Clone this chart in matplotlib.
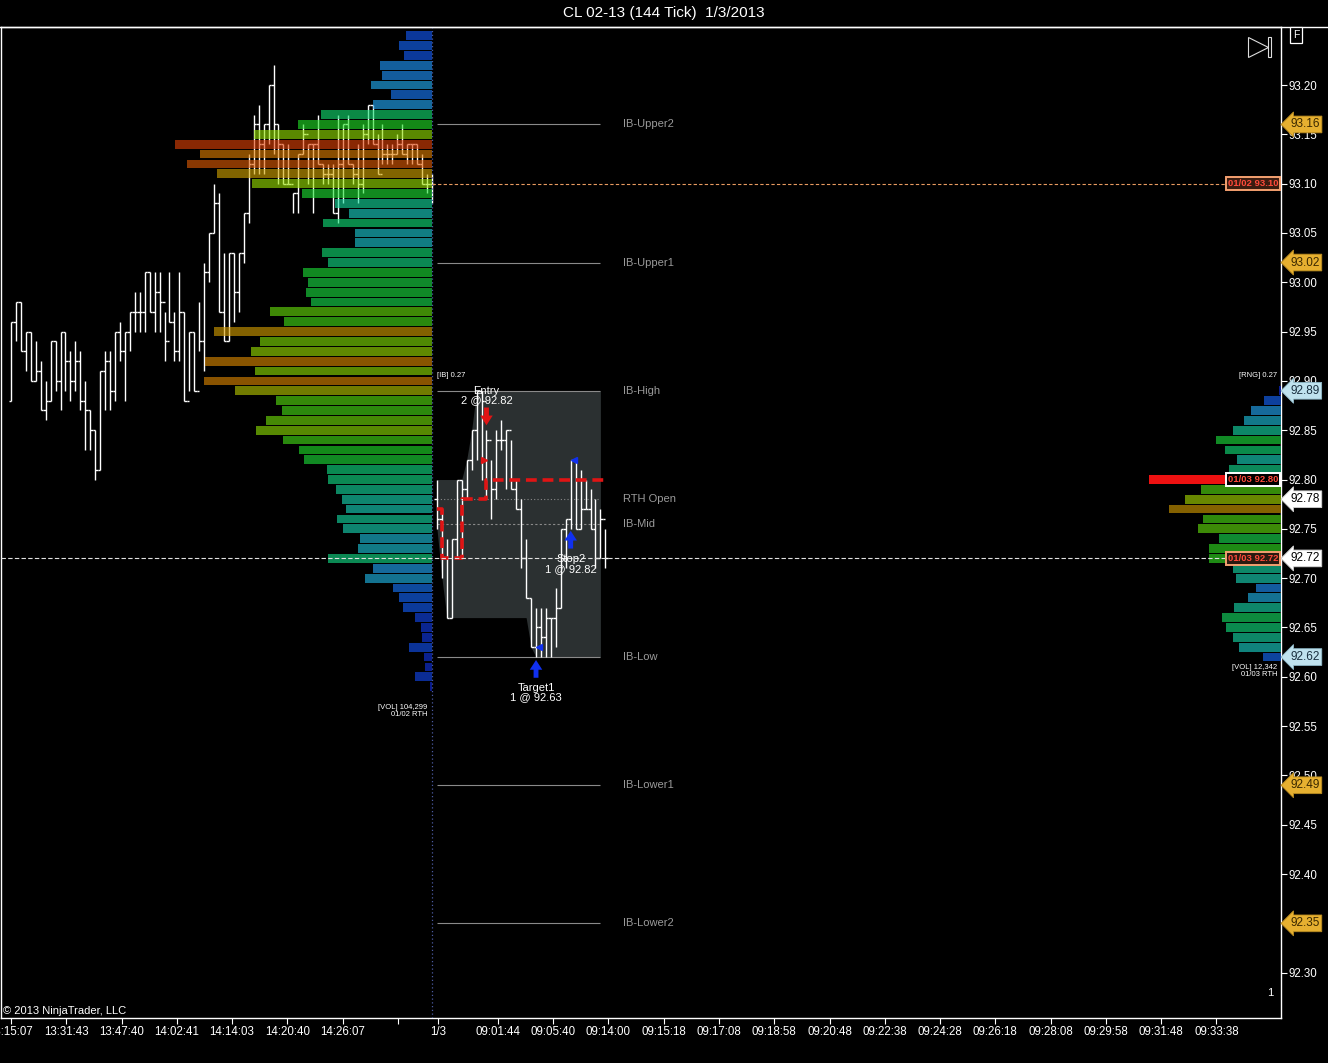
import numpy as np
import matplotlib
matplotlib.use("Agg")
import matplotlib.pyplot as plt
from matplotlib.collections import LineCollection
from matplotlib.colors import LinearSegmentedColormap, to_rgb
from matplotlib.patches import Rectangle
from matplotlib.lines import Line2D

plt.rcParams['font.family'] = ['Liberation Sans', 'DejaVu Sans']

# ------------------------------------------------------------------ data
title = "CL 02-13 (144 Tick)  1/3/2013"

# 01/02 session tick bars (high, low, close); open = previous close
prev_first_open = 92.88
prev_high = [92.96, 92.98, 92.98, 92.95, 92.95, 92.94, 92.92, 92.90, 92.94, 92.94,
             92.95, 92.95, 92.93, 92.94, 92.93, 92.90, 92.87, 92.85, 92.91, 92.93,
             92.93, 92.95, 92.96, 92.95, 92.97, 92.99, 92.99, 93.01, 93.01, 93.01,
             93.01, 92.97, 93.01, 92.97, 93.01, 92.97, 92.95, 92.95, 92.98, 93.02,
             93.05, 93.10, 93.09, 93.03, 93.03, 93.03, 93.03, 93.07, 93.13, 93.17,
             93.18, 93.16, 93.20, 93.22, 93.16, 93.14, 93.14, 93.09, 93.13, 93.16,
             93.14, 93.14, 93.17, 93.12, 93.12, 93.12, 93.17, 93.16, 93.17, 93.12,
             93.14, 93.16, 93.18, 93.18, 93.15, 93.16, 93.14, 93.14, 93.15, 93.16,
             93.14, 93.14, 93.14, 93.13, 93.11, 93.11]
prev_low = [92.88, 92.94, 92.93, 92.91, 92.90, 92.90, 92.87, 92.86, 92.88, 92.89,
            92.87, 92.89, 92.88, 92.89, 92.87, 92.83, 92.83, 92.80, 92.81, 92.87,
            92.87, 92.88, 92.92, 92.88, 92.93, 92.95, 92.95, 92.95, 92.97, 92.95,
            92.95, 92.92, 92.96, 92.92, 92.92, 92.88, 92.89, 92.89, 92.93, 92.91,
            93.00, 93.05, 92.97, 92.94, 92.94, 92.96, 92.97, 93.02, 93.06, 93.11,
            93.11, 93.11, 93.14, 93.13, 93.10, 93.10, 93.10, 93.07, 93.07, 93.13,
            93.10, 93.07, 93.12, 93.10, 93.10, 93.07, 93.06, 93.08, 93.12, 93.10,
            93.08, 93.09, 93.14, 93.14, 93.11, 93.12, 93.12, 93.12, 93.13, 93.13,
            93.12, 93.12, 93.12, 93.10, 93.09, 93.08]
prev_close = [92.96, 92.98, 92.93, 92.95, 92.90, 92.91, 92.87, 92.88, 92.94, 92.90,
              92.95, 92.92, 92.90, 92.92, 92.88, 92.87, 92.85, 92.81, 92.91, 92.92,
              92.89, 92.95, 92.93, 92.95, 92.97, 92.97, 92.97, 93.01, 92.97, 92.99,
              92.98, 92.94, 92.96, 92.93, 92.97, 92.88, 92.95, 92.89, 92.94, 93.01,
              93.05, 93.08, 92.97, 92.94, 93.03, 92.99, 93.03, 93.07, 93.12, 93.16,
              93.14, 93.16, 93.20, 93.16, 93.14, 93.10, 93.10, 93.09, 93.13, 93.15,
              93.14, 93.14, 93.12, 93.11, 93.11, 93.07, 93.12, 93.16, 93.12, 93.11,
              93.10, 93.15, 93.18, 93.14, 93.11, 93.13, 93.13, 93.13, 93.14, 93.13,
              93.14, 93.14, 93.12, 93.10, 93.10, 93.10]

# 01/03 RTH tick bars
rth_first_open = 92.78
rth_high = [92.80, 92.77, 92.74, 92.74, 92.80, 92.80, 92.82, 92.85, 92.89, 92.89,
            92.85, 92.82, 92.85, 92.86, 92.85, 92.84, 92.80, 92.78, 92.74, 92.68,
            92.67, 92.67, 92.67, 92.66, 92.69, 92.75, 92.76, 92.82, 92.82, 92.81,
            92.80, 92.79, 92.78, 92.77, 92.75]
rth_low = [92.75, 92.70, 92.66, 92.66, 92.72, 92.72, 92.78, 92.81, 92.82, 92.80,
           92.78, 92.76, 92.78, 92.83, 92.79, 92.79, 92.77, 92.71, 92.68, 92.63,
           92.62, 92.62, 92.62, 92.62, 92.63, 92.67, 92.71, 92.75, 92.75, 92.75,
           92.77, 92.75, 92.71, 92.72, 92.71]
rth_close = [92.76, 92.72, 92.66, 92.74, 92.80, 92.79, 92.82, 92.85, 92.89, 92.88,
             92.84, 92.79, 92.84, 92.84, 92.85, 92.79, 92.77, 92.72, 92.68, 92.63,
             92.65, 92.64, 92.66, 92.66, 92.67, 92.75, 92.76, 92.82, 92.75, 92.77,
             92.77, 92.75, 92.72, 92.76, 92.72]
ib_bar_count = 34

# trailing stop (per RTH bar)
stop_line = [92.77, 92.72, 92.72, 92.72, 92.72, 92.78, 92.78, 92.78, 92.78, 92.78,
             92.80, 92.80, 92.80, 92.80, 92.80, 92.80, 92.80, 92.80, 92.80, 92.80,
             92.80, 92.80, 92.80, 92.80, 92.80, 92.80, 92.80, 92.80, 92.80, 92.80,
             92.80, 92.80, 92.80, 92.80, 92.80]

# volume profiles (relative volume per 0.01 price level, from top down)
prev_profile_top = 93.25
prev_profile_vol = [26, 33, 28, 52, 50, 61, 41, 59, 111, 134,
                    178, 257, 232, 245, 215, 180, 130, 97, 83, 109,
                    77, 77, 110, 104, 129, 124, 126, 121, 162, 148,
                    218, 172, 181, 227, 177, 228, 197, 156, 150, 166,
                    176, 149, 133, 128, 105, 104, 96, 90, 86, 95,
                    89, 72, 74, 104, 59, 67, 39, 33, 29, 17,
                    11, 10, 23, 8, 7, 17, 2]
rth_profile_top = 92.89
rth_profile_vol = [2, 17, 30, 37, 48, 65, 56, 44, 52, 132,
                   80, 96, 112, 78, 83, 62, 72, 72, 48, 45,
                   25, 33, 47, 59, 55, 48, 42, 18]

# initial balance levels
ib_names = ["IB-Upper2", "IB-Upper1", "IB-High", "RTH Open", "IB-Mid", "IB-Low", "IB-Lower1", "IB-Lower2"]
ib_prices = [93.16, 93.02, 92.89, 92.78, 92.755, 92.62, 92.49, 92.35]
ib_styles = ["-", "-", "-", ":", "--", "-", "-", "-"]

# right axis price flags
flag_prices = [93.16, 93.02, 92.89, 92.78, 92.72, 92.62, 92.49, 92.35]
flag_kinds = ["gold", "gold", "blue", "white", "white", "blue", "gold", "gold"]

last_price = 92.72
prev_poc = 93.10
rth_poc = 92.80

# trades
entry_bar, entry_price, entry_label = 10, 92.82, "Entry\n2 @ 92.82"
target_bar, target_price, target_label = 20, 92.63, "Target1\n1 @ 92.63"
stop_bar, stop_price, stop_label = 27, 92.82, "Stop2\n1 @ 92.82"

# x axis labels
left_tick_labels = ["13:15:07", "13:31:43", "13:47:40", "14:02:41", "14:14:03", "14:20:40", "14:26:07", ""]
session_label = "1/3"
right_tick_labels = ["09:01:44", "09:05:40", "09:14:00", "09:15:18", "09:17:08", "09:18:58",
                     "09:20:48", "09:22:38", "09:24:28", "09:26:18", "09:28:08", "09:29:58",
                     "09:31:48", "09:33:38"]
yticks = [92.30, 92.35, 92.40, 92.45, 92.50, 92.55, 92.60, 92.65, 92.70, 92.75,
          92.80, 92.85, 92.90, 92.95, 93.00, 93.05, 93.10, 93.15, 93.20]

# ------------------------------------------------------------------ layout
W, H = 1328, 1063
PX = 4.953            # pixels per bar slot
TICK_STEP = 11.16     # slots between time labels
fig = plt.figure(figsize=(W / 100, H / 100), dpi=100, facecolor="black")
ax = fig.add_axes([1 / W, 45 / H, 1280 / W, 991 / H], facecolor="black")
x_lo, x_hi = (1 - 11) / PX, (1281 - 11) / PX
ax.set_xlim(x_lo, x_hi)
ax.set_ylim(93.20 - (1018 - 85) / 986.3, 93.20 + (85 - 27) / 986.3)

n_prev = len(prev_close)
prev_x = np.arange(n_prev)
sep_x = prev_x[-1]
rth_x = sep_x + 1 + np.arange(len(rth_close))

# colour scale for profiles (appearance on black)
prof_cmap = LinearSegmentedColormap.from_list("prof", [
    (0.00, "#0a1a8c"), (0.12, "#0c3e9e"), (0.22, "#16689e"), (0.32, "#10847c"),
    (0.42, "#0a8a4c"), (0.52, "#148a18"), (0.62, "#3a8a08"), (0.72, "#668a00"),
    (0.80, "#7a7200"), (0.88, "#8a5800"), (1.00, "#8a2804")])


def boosted(c, a):
    r, g, b = to_rgb(c)
    return (min(r / a, 1), min(g / a, 1), min(b / a, 1), a)


# IB developing range fill
hi_run = np.maximum.accumulate(np.array(rth_high[:ib_bar_count]))
lo_run = np.minimum.accumulate(np.array(rth_low[:ib_bar_count]))
ax.fill_between(rth_x[:ib_bar_count], lo_run, hi_run, color="#2b3031", lw=0, zorder=1)


def draw_bars(xs, first_open, hs, ls, cs):
    opens = [first_open] + list(cs[:-1])
    segs = []
    for x, o, h, l, c in zip(xs, opens, hs, ls, cs):
        segs.append([(x, l), (x, h)])
        segs.append([(x - 0.5, o), (x, o)])
        segs.append([(x, c), (x + 0.5, c)])
    ax.add_collection(LineCollection(segs, colors="white", linewidths=1.0, zorder=3))


draw_bars(prev_x, prev_first_open, prev_high, prev_low, prev_close)
draw_bars(rth_x, rth_first_open, rth_high, rth_low, rth_close)

# previous session profile (semi-transparent over bars)
pv = np.array(prev_profile_vol, float)
pp = np.round(prev_profile_top - 0.01 * np.arange(len(pv)), 2)
pcols = [boosted(prof_cmap(v / pv.max()), 0.62) for v in pv]
ax.barh(pp, pv / PX, left=sep_x - pv / PX, height=0.0089, color=pcols, lw=0, zorder=4)

# current session profile
rv = np.array(rth_profile_vol, float)
rp = np.round(rth_profile_top - 0.01 * np.arange(len(rv)), 2)
rcols = [prof_cmap(v / rv.max()) for v in rv]
rcols[int(np.argmax(rv))] = "#ee1111"
ax.barh(rp, rv / PX, left=x_hi - rv / PX, height=0.0089, color=rcols, lw=0, zorder=4)

# IB lines and labels
ib_start, ib_end = rth_x[0], rth_x[ib_bar_count - 1]
for name, p, st in zip(ib_names, ib_prices, ib_styles):
    ls = {"-": "-", ":": (0, (1, 2)), "--": (0, (2, 2))}[st]
    ax.hlines(p, ib_start, ib_end, colors="#8a8a8a", linestyles=ls, lw=0.8, zorder=2)
    ax.text(ib_end + 4.5, p, name, color="#9a9a9a", fontsize=8, va="center", ha="left", zorder=6)
ax.text(ib_start, ib_prices[2] + 0.015, "[IB] 0.27", color="white", fontsize=5.5, va="center", ha="left")

# trailing stop line
ax.plot(rth_x, stop_line, drawstyle="steps-post", color="#e01414", lw=2.6,
        dashes=(3, 1.6), zorder=5)

# current price / POC lines
ax.axhline(last_price, color="#e0e0e0", lw=0.8, dashes=(4, 2), zorder=5)
ax.hlines(prev_poc, sep_x, x_hi, colors="#e89a60", linestyles=(0, (3, 2)), lw=0.8, zorder=5)
ax.axvline(sep_x, color="#4a5aa0", ls=(0, (1, 2)), lw=0.9, zorder=5)

# trades
def arrow(x, y_from, y_to, col):
    ax.annotate("", xy=(x, y_to), xytext=(x, y_from),
                arrowprops=dict(arrowstyle="simple,head_width=0.9,head_length=0.7,tail_width=0.35",
                                color=col, lw=0, shrinkA=0, shrinkB=0), zorder=7)

ex = rth_x[entry_bar]
arrow(ex, 92.873, 92.855, "#e01414")
ax.plot(ex - 0.6, entry_price, marker=">", ms=4, color="#e01414", zorder=7)
ax.text(ex, 92.875, entry_label, color="white", fontsize=8, ha="center", va="bottom",
        linespacing=0.95, zorder=7)

tx = rth_x[target_bar]
arrow(tx, 92.599, 92.617, "#1030f0")
ax.plot(tx + 0.6, target_price, marker="<", ms=4, color="#1030f0", zorder=7)
ax.text(tx, 92.594, target_label, color="white", fontsize=8, ha="center", va="top",
        linespacing=0.95, zorder=7)

sx = rth_x[stop_bar]
arrow(sx, 92.730, 92.748, "#1030f0")
ax.plot(sx + 0.6, stop_price, marker="<", ms=4, color="#1030f0", zorder=7)
ax.text(sx, 92.724, stop_label, color="white", fontsize=8, ha="center", va="top",
        linespacing=0.95, zorder=7)

# small profile captions
yt = ax.get_yaxis_transform()
ax.text(0.997, 92.905, "[RNG] 0.27", transform=yt, color="white", fontsize=5.5, ha="right", va="center")
ax.text(0.997, 92.606, "[VOL] 12,342\n01/03 RTH", transform=yt, color="white", fontsize=5.5,
        ha="right", va="center", linespacing=1.05)
ax.text(sep_x - 1, 92.565, "[VOL] 104,299\n01/02 RTH", color="white", fontsize=5.5,
        ha="right", va="center", linespacing=1.05)

# boxed level labels inside plot
def level_box(p, text, ec, fc):
    ax.annotate(text, xy=(1.0, p), xycoords=yt, xytext=(-2.0, 0), textcoords="offset points",
                ha="right", va="center", fontsize=6.8, fontweight="bold", color="#ff4a3a",
                bbox=dict(boxstyle="square,pad=0.2", fc=fc, ec=ec, lw=1.4), zorder=8)

level_box(prev_poc, "01/02 93.10", "#f4a070", "#3a1c10")
level_box(rth_poc, "01/03 92.80", "white", "black")
level_box(last_price, "01/03 92.72", "#f4a070", "#2a1a10")

# axes styling
for s in ["top", "right", "bottom", "left"]:
    ax.spines[s].set_color("white")
    ax.spines[s].set_linewidth(1.0)
ax.yaxis.tick_right()
ax.set_yticks(yticks)
ax.set_yticklabels([f"{v:.2f}" for v in yticks])
ax.tick_params(axis="y", colors="white", labelsize=8.3, length=4, width=0.8, pad=1.5, direction="out")

left_ticks = list(np.arange(len(left_tick_labels)) * TICK_STEP)
right_ticks = list(rth_x[0] + 12.3 + np.arange(len(right_tick_labels)) * TICK_STEP)
xt = left_ticks + [rth_x[0] + 0.2] + right_ticks
xl = left_tick_labels + [session_label] + right_tick_labels
ax.set_xticks(xt)
ax.set_xticklabels(xl)
ax.tick_params(axis="x", colors="white", labelsize=8.3, length=4, width=0.8, pad=2, direction="out")

# price flags on the right axis
flag_style = {"gold": ("#e6b030", "#b88a20", "#3a2800"),
              "blue": ("#bfe2ee", "#8fb8c8", "#1a3040"),
              "white": ("#ffffff", "#d0d0d0", "#000000")}
for p, k in zip(flag_prices, flag_kinds):
    fc, ec, tc = flag_style[k]
    ax.annotate(f"{p:.2f}", xy=(1.0, p), xycoords=yt, xytext=(6.5, 0), textcoords="offset points",
                ha="left", va="center", fontsize=8.5, color=tc, annotation_clip=False,
                bbox=dict(boxstyle="larrow,pad=0.2", fc=fc, ec=ec, lw=0.6), zorder=9)

# decorations
ax.text(2 / 1280, 7 / 991, "\u00a9 2013 NinjaTrader, LLC", transform=ax.transAxes, color="white",
        fontsize=8, ha="left", va="center")
ax.text(1269 / 1280, 25 / 991, "1", transform=ax.transAxes, color="white", fontsize=8,
        ha="center", va="center")
ax.plot([1257 / 1280], [(1018 - 47) / 991], transform=ax.transAxes, marker=">", ms=15,
        mfc="none", mec="#dddddd", mew=0.8, clip_on=False)
ax.add_patch(Rectangle((1267 / 1280, (1018 - 57) / 991), 3 / 1280, 20 / 991, transform=ax.transAxes,
                       fill=False, ec="#dddddd", lw=0.8))
fig.text(1296 / W, 1 - 35 / H, "F", color="white", fontsize=7.5, ha="center", va="center",
         bbox=dict(boxstyle="square,pad=0.3", fc="black", ec="white", lw=0.9))
fig.add_artist(Line2D([0, 1], [1 - 27 / H, 1 - 27 / H], color="white", lw=1.0))
fig.text(0.5, 1 - 13 / H, title, color="white", fontsize=11, ha="center", va="center")

fig.savefig("out.png", dpi=100, facecolor="black")
